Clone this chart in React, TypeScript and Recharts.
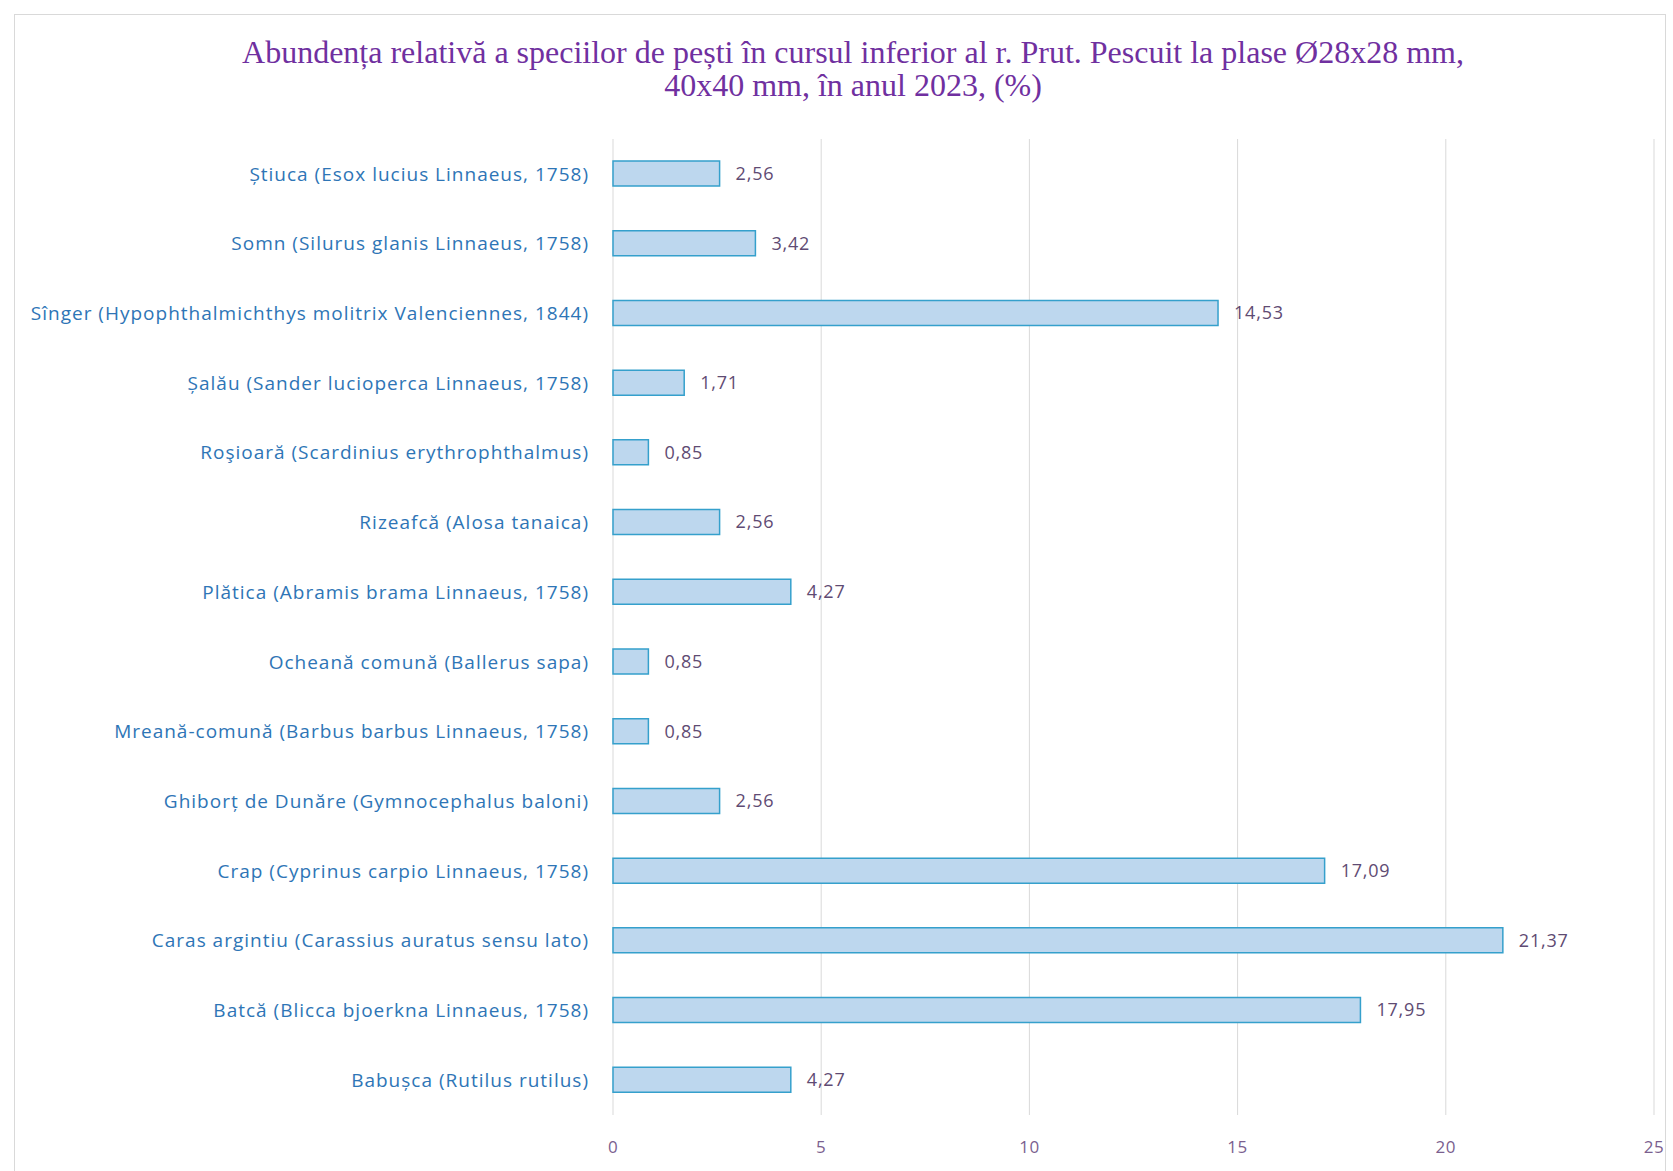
import { BarChart, Bar, XAxis, YAxis, CartesianGrid, LabelList } from "recharts";

const species = [
  "Știuca (Esox lucius Linnaeus, 1758)",
  "Somn (Silurus glanis Linnaeus, 1758)",
  "Sînger (Hypophthalmichthys molitrix Valenciennes, 1844)",
  "Șalău (Sander lucioperca Linnaeus, 1758)",
  "Roşioară (Scardinius erythrophthalmus)",
  "Rizeafcă (Alosa tanaica)",
  "Plătica (Abramis brama Linnaeus, 1758)",
  "Ocheană comună (Ballerus sapa)",
  "Mreană-comună (Barbus barbus Linnaeus, 1758)",
  "Ghiborț de Dunăre (Gymnocephalus baloni) ",
  "Crap (Cyprinus carpio Linnaeus, 1758)",
  "Caras argintiu (Carassius auratus sensu lato)",
  "Batcă (Blicca bjoerkna Linnaeus, 1758)",
  "Babușca (Rutilus rutilus) ",
];

const abundance = [2.56, 3.42, 14.53, 1.71, 0.85, 2.56, 4.27, 0.85, 0.85, 2.56, 17.09, 21.37, 17.95, 4.27];

const xTicks = [0, 5, 10, 15, 20, 25];

const titleLines = [
  "Abundența relativă a speciilor de pești în cursul inferior al r. Prut. Pescuit la plase Ø28x28 mm,",
  "40x40 mm, în anul 2023, (%)",
];

const data = species.map((name, i) => ({ name, value: abundance[i] }));

const fmt = (v: number) => v.toFixed(2).replace(".", ",");

const LABEL_FONT = "'Open Sans', Lato, sans-serif";

export default function App() {
  return (
    <div style={{ position: "absolute", left: 0, top: 0, width: 1673, height: 1171, background: "#fff" }}>
      <div
        style={{
          position: "absolute",
          left: 14,
          top: 14,
          width: 1652,
          height: 1170,
          border: "1px solid #d9d9d9",
          boxSizing: "border-box",
        }}
      />
      <div
        style={{
          position: "absolute",
          left: 0,
          top: 36,
          width: 1706,
          textAlign: "center",
          fontFamily: "'Liberation Serif', 'Times New Roman', serif",
          fontSize: 32,
          lineHeight: "33px",
          color: "#7030a0",
        }}
      >
        {titleLines.map((t) => (
          <div key={t}>{t}</div>
        ))}
      </div>
      <BarChart
        width={1673}
        height={1171}
        data={data}
        layout="vertical"
        margin={{ top: 139, right: 19, bottom: 16, left: 10 }}
        barSize={25}
      >
        <CartesianGrid horizontal={false} stroke="#d9d9d9" />
        <XAxis
          type="number"
          domain={[0, 25]}
          ticks={xTicks}
          height={40}
          axisLine={false}
          tickLine={false}
          tickMargin={20}
          tick={{ fontSize: 17, fill: "#7b5f8f", fontFamily: LABEL_FONT, letterSpacing: 0.5 }}
        />
        <YAxis
          type="category"
          dataKey="name"
          width={603}
          axisLine={false}
          tickLine={false}
          tickSize={0}
          tickMargin={24}
          interval={0}
          tick={{ fontSize: 19, fill: "#2e75b6", fontFamily: LABEL_FONT, letterSpacing: 1 }}
        />
        <Bar dataKey="value" fill="#bdd7ee" stroke="#35a0cc" strokeWidth={1.5} isAnimationActive={false}>
          <LabelList
            dataKey="value"
            position="right"
            offset={16}
            formatter={(v: any) => fmt(Number(v))}
            style={{ fontSize: 18, fill: "#5f4b73", fontFamily: LABEL_FONT, letterSpacing: 0.8 }}
          />
        </Bar>
      </BarChart>
    </div>
  );
}
